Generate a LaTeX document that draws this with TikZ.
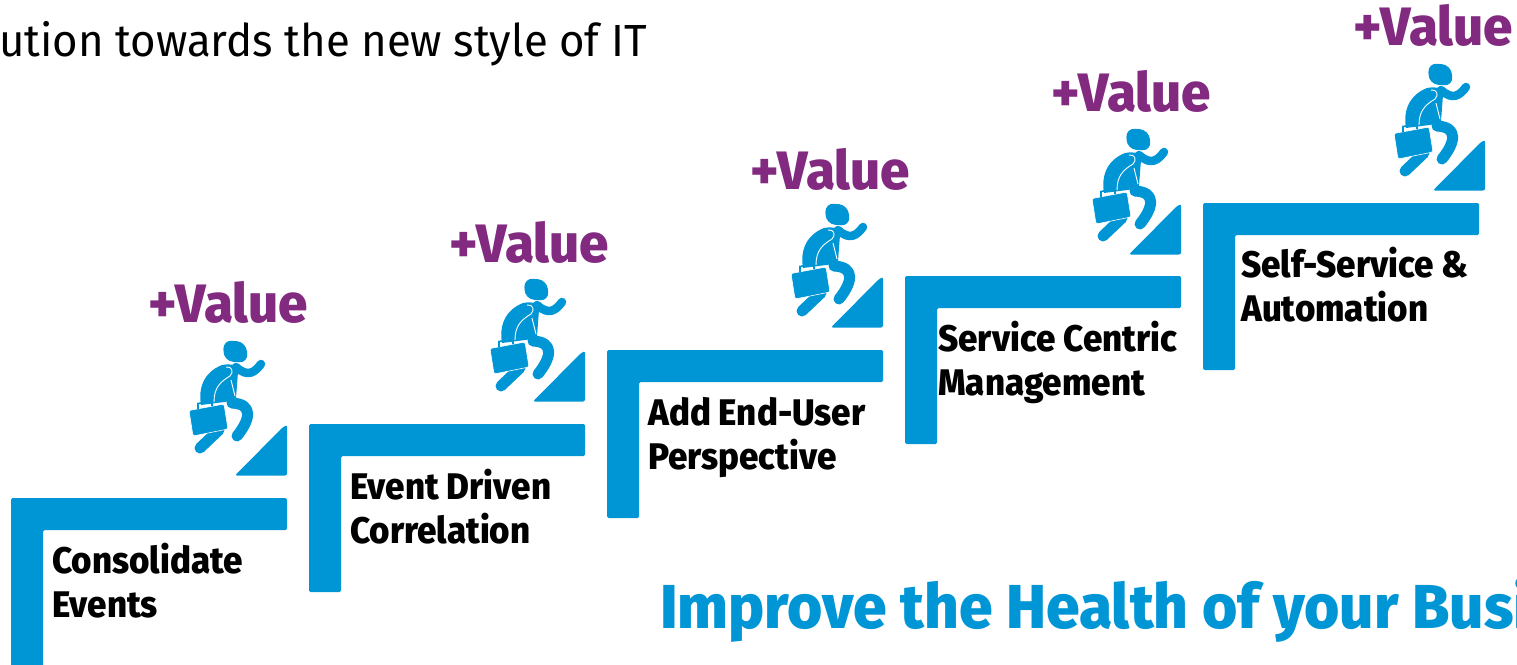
\documentclass[tikz,border=0pt]{standalone}
\usepackage{fontspec}
\setmainfont{Fira Sans}
\newfontfamily\hpbold[FakeStretch=0.945]{Fira Sans ExtraBold}
\newfontfamily\hpvalue[FakeStretch=0.98]{Fira Sans ExtraBold}
\newfontfamily\hphead[FakeStretch=0.975]{Fira Sans ExtraBold}
\newfontfamily\hplight[FakeStretch=0.972]{Fira Sans}
\definecolor{hpblue}{HTML}{0096D6}
\definecolor{hppurple}{HTML}{822980}
\tikzset{
 stepbar/.style={fill=hpblue,rounded corners=1.5pt},
 valuetxt/.style={anchor=base west,inner sep=0,text=hppurple,font=\hpvalue\fontsize{54}{54}\selectfont},
 steptxt/.style={anchor=base west,inner sep=0,text=black,font=\hpbold\fontsize{37}{44}\selectfont,align=left},
 headtxt/.style={anchor=base west,inner sep=0,text=hpblue,font=\hphead\fontsize{62}{62}\selectfont},
 titletxt/.style={anchor=base west,inner sep=0,text=black,font=\hplight\fontsize{45}{45}\selectfont},
 limb/.style={draw=hpblue,line cap=round,line join=round},
 climber/.pic={
  \fill[hpblue,rounded corners=9pt] (223,340)--(246,342)--(248,363)--(224,361)--cycle;
  \draw[limb,line width=8.5pt] (236,367) .. controls (248,378) and (255,372) .. (261,364);
  \fill[hpblue] (222,365) .. controls (232,363) and (240,366) .. (238,372)
     -- (236,398) -- (232,401) -- (201,405) .. controls (198,388) and (204,372) .. (222,365) -- cycle;
  \draw[white,line width=.9pt] (214,402) .. controls (214,388) and (220,382) .. (230,376) .. controls (234,372) and (232,366) .. (226,367);
  \draw[white,line width=.9pt] (231,380) -- (235,396);
  \draw[limb,line width=11pt] (232,403) .. controls (254,404) and (250,420) .. (237,436);
  \draw[limb,line width=11pt] (219,430) -- (200,448);
  \fill[hpblue,draw=white,line width=.6pt,rounded corners=1.5pt] (189,410.5)--(224,404)--(228,429)--(193,436)--cycle;
  \draw[hpblue,line width=1.6pt] (198,409) -- (198,403.5) -- (212,401) -- (212,406);
 },
 wedge/.pic={
  \fill[hpblue,rounded corners=2pt] (235,475.5)--(283,427)--(287,425)--(287,475.5)--cycle;
 }
}
\begin{document}
\begin{tikzpicture}[x=1pt,y=-1pt]
\path[use as bounding box] (0,0) rectangle (1517,664);
\begin{scope}
\clip (0,0) rectangle (1517,664);
\node[titletxt] (title) at (-1,56) {ution towards the new style of IT};
\node[headtxt] (head) at (660,628) {Improve the Health of your Busi};
\foreach \dx/\dy/\stem in {0/0/700,298/-74/592,596/-148/518,894/-222/444,1192/-295/370}{
  \fill[stepbar] (11+\dx,498+\dy) -- (287+\dx,498+\dy) -- (287+\dx,530+\dy) -- (43+\dx,530+\dy) -- (43+\dx,\stem) -- (11+\dx,\stem) -- cycle;
}
\foreach \dx/\dy in {0/0,298/-74,596/-148,894/-221,1198/-285}{
  \pic at (\dx,\dy) {wedge};
}
\foreach \n/\dx/\dy/\vy in {1/0/0/0,2/301/-62/-60,3/602/-137/-133,4/903/-212/-211,5/1205/-277/-277}{
  \pic at (\dx,\dy) {climber};
  \node[valuetxt] (value\n) at (148+\dx,322+\vy) {+Value};
}
\node[steptxt] (s1) at (52,617) {Consolidate\\Events};
\node[steptxt] (s2) at (350,543) {Event Driven\\Correlation};
\node[steptxt] (s3) at (648,469) {Add End-User\\Perspective};
\node[steptxt] (s4) at (938,395) {Service Centric\\Management};
\node[steptxt] (s5) at (1241,321) {Self-Service \&\\Automation};
\end{scope}
\end{tikzpicture}
\end{document}
